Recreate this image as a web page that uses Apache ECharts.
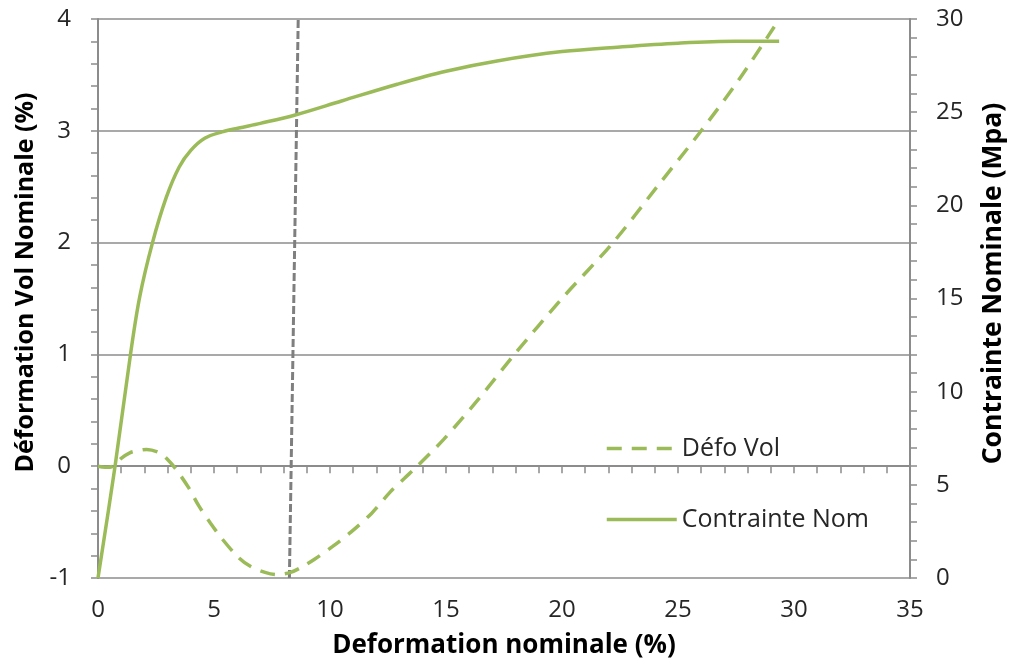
<!DOCTYPE html>
<html>
<head>
<meta charset="utf-8">
<script src="https://cdn.jsdelivr.net/npm/echarts@6/dist/echarts.min.js"></script>
<style>html,body{margin:0;padding:0;background:#fff;}#c{width:1015px;height:669px;}</style>
</head>
<body>
<div id="c"></div>
<script>
// Défo Vol (left axis, %)
const defoX = [0, 0.3, 0.65, 1.0, 1.37, 1.75, 2.1, 2.65, 3.0, 3.37, 3.9, 4.36, 4.85, 5.35, 6.07, 6.6, 7.2, 7.7, 8.3, 8.8, 9.35, 10.1, 10.9, 11.8, 12.6, 13.2, 13.76, 14.9, 16.4, 17.95, 20.0, 22.2, 24.1, 26.0, 27.6, 29.15];
const defoY = [0, -0.01, 0.0, 0.07, 0.12, 0.14, 0.15, 0.12, 0.06, -0.03, -0.19, -0.36, -0.51, -0.65, -0.82, -0.9, -0.95, -0.97, -0.95, -0.9, -0.83, -0.72, -0.59, -0.42, -0.23, -0.11, 0.0, 0.24, 0.6, 1.0, 1.5, 2.0, 2.5, 3.0, 3.45, 3.93];
// Contrainte Nom (right axis, MPa)
const contX = [0, 0.73, 1.4, 1.8, 2.35, 2.95, 3.5, 4.0, 4.6, 5.35, 6.07, 7.0, 8.5, 10.5, 12.9, 15.0, 17.2, 20.0, 22.5, 25.0, 27.5, 29.36];
const contY = [0, 5.96, 12.0, 15.1, 18.0, 20.45, 22.06, 22.95, 23.6, 23.94, 24.15, 24.4, 24.85, 25.6, 26.5, 27.2, 27.75, 28.25, 28.5, 28.7, 28.8, 28.8];
// Vertical reference line (left axis)
const refX = [8.25, 8.63];
const refY = [-1, 4];

const xTicks = {min: 0, max: 35, interval: 5};
const yLeftTicks = {min: -1, max: 4, interval: 1};
const yRightTicks = {min: 0, max: 30, interval: 5};

const green = '#9BBB59';
const axisGray = '#8c8c8c';
const txt = '#262626';
const font = 'Open Sans';

const zip = (a, b) => a.map((v, i) => [v, b[i]]);

const chart = echarts.init(document.getElementById('c'));
chart.setOption({
  animation: false,
  textStyle: {fontFamily: font},
  grid: {left: 98, right: 98, top: 19, bottom: 91},
  legend: {
    data: ['Défo Vol', 'Contrainte Nom'],
    orient: 'vertical',
    left: 600, top: 431,
    itemWidth: 70, itemHeight: 14, itemGap: 46,
    itemStyle: {opacity: 0},
    lineStyle: {width: 3.5},
    textStyle: {fontSize: 25, color: txt, fontFamily: font}
  },
  xAxis: {
    type: 'value', min: xTicks.min, max: xTicks.max, interval: xTicks.interval,
    name: 'Deformation nominale (%)', nameLocation: 'middle', nameGap: 55,
    nameTextStyle: {fontSize: 26, fontWeight: 'bold', color: '#000', fontFamily: font},
    axisLine: {show: true, lineStyle: {color: axisGray, width: 2}},
    axisTick: {show: true, length: 7, lineStyle: {color: axisGray, width: 1.5}},
    minorTick: {show: true, splitNumber: 5, length: 7, lineStyle: {color: axisGray, width: 1.5}},
    axisLabel: {fontSize: 24, color: txt, margin: 20, fontFamily: font},
    splitLine: {show: false}
  },
  yAxis: [{
    type: 'value', min: yLeftTicks.min, max: yLeftTicks.max, interval: yLeftTicks.interval,
    name: 'Déformation Vol Nominale (%)', nameLocation: 'middle', nameGap: 58, nameRotate: 90,
    nameTextStyle: {fontSize: 25, fontWeight: 'bold', color: '#000', fontFamily: font, padding: [0, 0, 0, 32]},
    axisLine: {show: true, lineStyle: {color: axisGray, width: 2}},
    axisTick: {show: true, length: 7, lineStyle: {color: axisGray, width: 1.5}},
    minorTick: {show: true, splitNumber: 5, length: 7, lineStyle: {color: axisGray, width: 1.5}},
    axisLabel: {fontSize: 24, color: txt, margin: 27, fontFamily: font},
    splitLine: {show: true, lineStyle: {color: axisGray, width: 1.5}}
  }, {
    type: 'value', position: 'right', min: yRightTicks.min, max: yRightTicks.max, interval: yRightTicks.interval,
    name: 'Contrainte Nominale (Mpa)', nameLocation: 'middle', nameGap: 70, nameRotate: 90,
    nameTextStyle: {fontSize: 26.5, fontWeight: 'bold', color: '#000', fontFamily: font, padding: [0, 0, 0, 30]},
    axisLine: {show: true, lineStyle: {color: axisGray, width: 2}},
    axisTick: {show: true, length: 7, lineStyle: {color: axisGray, width: 1.5}},
    minorTick: {show: true, splitNumber: 5, length: 7, lineStyle: {color: axisGray, width: 1.5}},
    axisLabel: {fontSize: 24, color: txt, margin: 26, fontFamily: font},
    splitLine: {show: false}
  }],
  series: [{
    name: 'Référence', type: 'line', yAxisIndex: 0, symbol: 'none',
    data: zip(refX, refY),
    lineStyle: {color: '#7f7f7f', width: 3, type: [8, 3]}, z: 1
  }, {
    name: 'Défo Vol', type: 'line', yAxisIndex: 0, symbol: 'none', smooth: 0.3,
    data: zip(defoX, defoY), color: green,
    lineStyle: {color: green, width: 3.5, type: [15, 10]}, z: 3
  }, {
    name: 'Contrainte Nom', type: 'line', yAxisIndex: 1, symbol: 'none', smooth: 0.35,
    data: zip(contX, contY), color: green,
    lineStyle: {color: green, width: 3.5}, z: 3
  }]
});
</script>
</body>
</html>
